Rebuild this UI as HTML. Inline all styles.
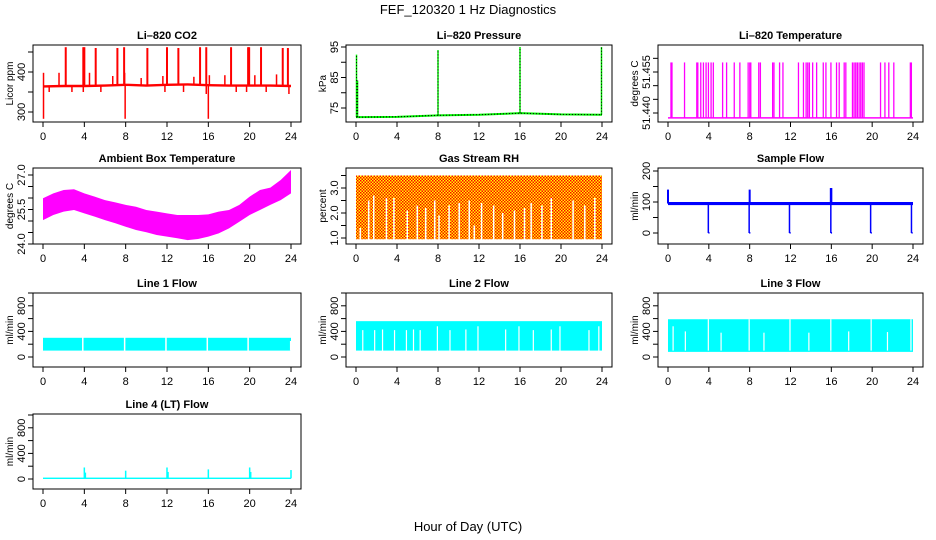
<!DOCTYPE html>
<html><head><meta charset="utf-8">
<style>
html,body{margin:0;padding:0;background:#fff;}
svg{display:block;font-family:"Liberation Sans",sans-serif;}
</style></head>
<body>
<svg id="chart" width="936" height="540" viewBox="0 0 936 540" xmlns="http://www.w3.org/2000/svg">
<defs>
<pattern id="rhpat" width="3" height="3" patternUnits="userSpaceOnUse">
<rect width="3" height="3" fill="#ffff00"/><rect x="0" y="0" width="1.5" height="1.5" fill="#ff0000"/><rect x="1.5" y="1.5" width="1.5" height="1.5" fill="#ff0000"/>
</pattern>
</defs>
<text x="468" y="14" text-anchor="middle" font-size="13">FEF_120320  1 Hz Diagnostics</text>
<text x="468" y="531" text-anchor="middle" font-size="13">Hour of Day (UTC)</text>
</svg>
<script>
// ---- data ----
const xTicks = [0,4,8,12,16,20,24];
// CO2
const co2BaseHours = [0,2,4,6,8,10,12,14,16,18,20,22,24];
const co2BaseVals = [364,365,365,366,368,366,368,369,367,366,366,366,365];
const co2SpikeHours = [2.2,3.9,4.0,5.1,7.2,7.85,10.1,12.0,13.1,15.2,15.8,18.2,19.85,19.95,21.1,23.2,23.7];
const co2SpikeVals = [462,462,462,460,460,462,460,462,460,462,462,462,462,462,462,460,460];
const co2MidHours = [0.05,1.55,4.5,6.75,7.9,9.5,11.6,14.6,16.1,17.6,20.5,22.6];
const co2MidVals = [398,398,398,390,398,385,390,388,392,392,392,394];
const co2DipHours = [0.05,0.6,2.8,3.9,5.6,7.95,11.8,13.6,15.8,16.0,18.7,19.7,21.6,23.8];
const co2DipVals = [283,350,350,350,350,283,350,350,345,283,350,350,350,345];
// Pressure
const presHours = [0,4,8,12,16,20,24];
const presVals = [72.0,72.1,72.6,72.8,73.3,72.9,72.8];
const presSpikeHours = [0.05,0.15,8.0,16.0,23.95];
const presSpikeVals = [92.5,84,94,95,95];
// Li-820 temperature
const tempLow = 51.4382;
const tempHigh = 51.4585;
const tempSpikeHours = [0.29,0.39,1.62,2.82,2.92,3.21,3.47,3.73,3.96,4.22,4.44,5.35,5.74,6.49,7.04,7.85,8.01,8.11,8.89,9.05,10.25,10.38,10.93,11.26,12.78,13.27,13.53,13.69,13.85,14.17,14.56,15.21,15.47,15.96,16.51,16.77,17.26,17.42,18.07,18.23,18.39,18.55,18.72,18.88,19.04,19.2,20.82,21.25,21.63,22.12,23.74,23.84];
// Ambient box temperature (hourly envelope)
const ambHours = [0,1,2,3,4,5,6,7,8,9,10,11,12,13,14,15,16,17,18,19,20,21,22,23,24];
const ambHigh = [25.99,26.20,26.35,26.38,26.20,26.06,25.91,25.81,25.70,25.62,25.48,25.41,25.33,25.26,25.26,25.26,25.29,25.41,25.48,25.70,26.06,26.35,26.45,26.78,27.22];
const ambLow = [25.04,25.26,25.41,25.48,25.33,25.19,25.04,24.90,24.75,24.61,24.51,24.39,24.32,24.25,24.17,24.22,24.32,24.46,24.68,24.97,25.26,25.48,25.70,25.91,26.20];
// Gas stream RH
const rhTop = 3.5;
const rhBottom = 0.95;
const rhGapHours = [0.42,1.24,1.73,2.97,3.7,5.0,5.98,6.8,7.68,8.1,9.08,10.07,11.05,11.54,12.25,13.43,14.31,15.46,16.44,17.09,18.14,19.05,21.18,22.32,23.3];
const rhGapVals = [1.4,2.5,2.7,2.6,2.6,2.1,2.3,2.2,2.5,1.9,2.3,2.4,2.5,1.5,2.4,2.3,2.0,2.1,2.2,2.4,2.3,2.6,2.5,2.3,2.6];
// Sample flow
const sfLow = 90, sfHigh = 100;
const sfUpHours = [0.0,8.0,16.0,15.95];
const sfUpVals = [140,140,145,145];
const sfDropHours = [3.95,7.95,11.9,15.95,19.85,23.85];
const sfDropVals = [0,0,0,0,0,0];
// Line flows
const l1Low = 100, l1High = 300;
const l1GapHours = [3.85,7.9,11.9,15.9,19.85];
const l2Low = 100, l2High = 560;
const l2GapHours = [0.66,1.82,2.59,3.76,4.92,5.61,6.26,7.94,9.17,10.72,11.9,14.6,15.9,17.3,19.05,19.9,22.73,23.69];
const l2GapVals = [420,420,430,420,420,430,420,480,420,430,480,430,480,420,430,480,420,480];
const l3Low = 80, l3High = 590;
const l3GapHours = [0.5,1.7,3.95,5.2,7.95,9.4,11.95,13.8,15.95,17.7,19.9,21.5,23.8];
const l3GapVals = [480,400,590,380,590,380,590,380,590,400,590,390,590];
const l4Base = 10;
const l4SpikeHours = [4.0,4.1,8.0,12.0,12.1,16.0,20.0,20.1,24.0];
const l4SpikeVals = [180,100,130,180,110,150,180,110,140];

// ---- layout ----
const svg = document.getElementById('chart');
const NS = 'http://www.w3.org/2000/svg';
function el(tag, attrs, parent){ const e=document.createElementNS(NS,tag); for(const k in attrs) e.setAttribute(k,attrs[k]); (parent||svg).appendChild(e); return e; }
const COLS = [[33,301],[346,612],[658,923]];
const ROWS = [[45,122],[168,244],[293,367],[414,489]];

function panel(name, c, r, title, ytitle, v0, y0, v1, y1, ticks, labels, fmt){
  const [L,R] = COLS[c], [T,B] = ROWS[r];
  const g = el('g', {});
  
  
  const xs = h => (L+10) + h*((R-10)-(L+10))/24;
  const ys = v => y0 + (v-v0)*(y1-y0)/(v1-v0);
  const plot = el('g', {}, g);
  
  
  const t = el('text', {x:(L+R)/2, y:T-6, 'text-anchor':'middle', 'font-size':'11', 'font-weight':'bold'}, g);
  
  
  t.textContent = title;
  const yt = el('text', {transform:`translate(${L-20},${(T+B)/2}) rotate(-90)`, 'text-anchor':'middle', 'font-size':'10'}, g);
  
  
  yt.textContent = ytitle;
  const axis = el('g', {stroke:'#000','stroke-width':'1',fill:'none'}, g);
  
  
  xTicks.forEach(h => {
    el('line', {x1:xs(h), x2:xs(h), y1:B, y2:B+5}, axis);
    const lt = el('text', {x:xs(h), y:B+18, 'text-anchor':'middle', 'font-size':'11', fill:'#000', stroke:'none'}, g);
    
    
    lt.textContent = h;
  });
  ticks.forEach(v => {
    el('line', {x1:L, x2:L-5, y1:ys(v), y2:ys(v)}, axis);
  });
  labels.forEach(v => {
    const lt = el('text', {transform:`translate(${L-8},${ys(v)}) rotate(-90)`, 'text-anchor':'middle', 'font-size':'11'}, g);
    
    
    lt.textContent = fmt(v);
  });
  const frame = el('rect', {x:L, y:T, width:R-L, height:B-T, fill:'none', stroke:'#000'}, g);
  
  
  return {xs, ys, plot, L, R, T, B};
}
function vline(p, h, va, vb, color, w, name){
  const l = el('line', {x1:p.xs(h), x2:p.xs(h), y1:p.ys(va), y2:p.ys(vb), stroke:color, 'stroke-width':w||1.5}, p.plot);
  
  
  return l;
}
function band(p, h0, h1, lo, hi, fill, name){
  const r = el('rect', {x:p.xs(h0), y:p.ys(hi), width:p.xs(h1)-p.xs(h0), height:p.ys(lo)-p.ys(hi), fill:fill}, p.plot);
  
  
  return r;
}
const id = v => String(v);
const f1 = v => v.toFixed(1);
const f3 = v => v.toFixed(3);

// CO2
let p = panel('co2', 0, 0, 'Li\u2013820 CO2', 'Licor ppm', 300, 112, 400, 72, [300,350,400,450], [300,400], id);
{ let pts=[]; co2BaseHours.forEach((h,i)=>pts.push(p.xs(h)+','+p.ys(co2BaseVals[i]+3)));
  for(let i=co2BaseHours.length-1;i>=0;i--) pts.push(p.xs(co2BaseHours[i])+','+p.ys(co2BaseVals[i]-3));
  const pl = el('polygon',{points:pts.join(' '),fill:'#ff0000'},p.plot);
  
   }
const co2At = h => { let i=Math.min(Math.floor(h/2),co2BaseVals.length-2); const t=(h-co2BaseHours[i])/2; return co2BaseVals[i]*(1-t)+co2BaseVals[i+1]*t; };
co2SpikeHours.forEach((h,i)=>vline(p,h,co2At(h),co2SpikeVals[i],'#ff0000',2,'co2-spike'));
co2MidHours.forEach((h,i)=>vline(p,h,co2At(h),co2MidVals[i],'#ff0000',1.5,'co2-spike'));
co2DipHours.forEach((h,i)=>vline(p,h,co2At(h),co2DipVals[i],'#ff0000',1.5,'co2-dip'));

// Pressure
p = panel('pressure', 1, 0, 'Li\u2013820 Pressure', 'kPa', 75, 108, 95, 47, [75,80,85,90,95], [75,85,95], id);
{ const pl = el('polyline',{points:presHours.map((h,i)=>p.xs(h)+','+p.ys(presVals[i])).join(' '),fill:'none',stroke:'#00ee00','stroke-width':2},p.plot);
  
  
  const pd = el('polyline',{points:presHours.map((h,i)=>p.xs(h)+','+p.ys(presVals[i])).join(' '),fill:'none',stroke:'#000','stroke-width':1,'stroke-dasharray':'1 2'},p.plot);
  
   }
presSpikeHours.forEach((h,i)=>{ const b = presVals[Math.min(Math.round(h/4),presVals.length-1)];
  vline(p,h,b,presSpikeVals[i],'#00ee00',1.5,'pressure-spike');
  const d = vline(p,h,b,presSpikeVals[i],'#000',1,'pressure-spike-dots'); d.setAttribute('stroke-dasharray','1 2'); });

// Li temperature
p = panel('li-temp', 2, 0, 'Li\u2013820 Temperature', 'degrees C', 51.440, 113, 51.455, 72, [51.440,51.445,51.450,51.455,51.460], [51.440,51.455], f3);
{ const l = el('line',{x1:p.xs(0),x2:p.xs(24),y1:p.ys(tempLow),y2:p.ys(tempLow),stroke:'#ff00ff','stroke-width':1.5},p.plot);
  
   }
tempSpikeHours.forEach(h=>vline(p,h,tempLow,tempHigh,'#ff00ff',1.3,'li-temp-spike'));

// Ambient
p = panel('ambient-temp', 0, 1, 'Ambient Box Temperature', 'degrees C', 24, 244, 27, 175, [24,24.5,25,25.5,26,26.5,27], [24,25.5,27], f1);
{ let pts=ambHours.map((h,i)=>p.xs(h)+','+p.ys(ambHigh[i]));
  for(let i=ambHours.length-1;i>=0;i--) pts.push(p.xs(ambHours[i])+','+p.ys(ambLow[i]));
  const pl = el('polygon',{points:pts.join(' '),fill:'#ff00ff'},p.plot);
  
   }

// RH
p = panel('gas-rh', 1, 1, 'Gas Stream RH', 'percent', 1, 238, 3, 188, [1,1.5,2,2.5,3,3.5], [1,2,3], f1);
band(p, 0, 24, rhBottom, rhTop, 'url(#rhpat)', 'gas-rh-band');
rhGapHours.forEach((h,i)=>vline(p,h,rhBottom-0.05,rhGapVals[i],'#ffffff',1.5,'gas-rh-gap'));

// Sample flow
p = panel('sample-flow', 2, 1, 'Sample Flow', 'ml/min', 0, 233, 200, 171, [0,50,100,150,200], [0,100,200], id);
band(p, 0, 24, sfLow, sfHigh, '#0000ff', 'sample-flow-band');
sfUpHours.forEach((h,i)=>vline(p,h,95,sfUpVals[i],'#0000ff',2,'sample-flow-spike'));
sfDropHours.forEach((h,i)=>{ vline(p,h,95,sfDropVals[i],'#0000ff',1.5,'sample-flow-drop'); band(p,h,h+0.12,sfDropVals[i]-2,sfDropVals[i]+3,'#0000ff','sample-flow-drop-foot'); });

// Line flows
const lfTicks=[0,200,400,600,800,1000], lfLabels=[0,400,800];
function linePanel(name,c,r,title){ const [T,B]=ROWS[r]; return panel(name,c,r,title,'ml/min',0,B-10,1000,B-74,lfTicks,lfLabels,id); }
p = linePanel('line1-flow',0,2,'Line 1 Flow');
band(p,0,24,l1Low,l1High,'#00ffff','line1-flow-band');
l1GapHours.forEach(h=>vline(p,h,l1Low-5,l1High+5,'#ffffff',1.5,'line1-flow-gap'));
vline(p,23.97,l1Low,250,'#ffffff',1.5,'line1-flow-gap');

p = linePanel('line2-flow',1,2,'Line 2 Flow');
band(p,0,24,l2Low,l2High,'#00ffff','line2-flow-band');
l2GapHours.forEach((h,i)=>vline(p,h,l2Low-5,l2GapVals[i],'#ffffff',1.2,'line2-flow-gap'));

p = linePanel('line3-flow',2,2,'Line 3 Flow');
band(p,0,24,l3Low,l3High,'#00ffff','line3-flow-band');
l3GapHours.forEach((h,i)=>vline(p,h,l3Low+20,l3GapVals[i],'#ffffff',1.2,'line3-flow-gap'));

p = linePanel('line4-flow',0,3,'Line 4 (LT) Flow');
band(p,0,24,l4Base-10,l4Base+12,'#00ffff','line4-flow-band');
l4SpikeHours.forEach((h,i)=>vline(p,h,l4Base,l4SpikeVals[i],'#00ffff',1.5,'line4-flow-spike'));
</script>
</body></html>
